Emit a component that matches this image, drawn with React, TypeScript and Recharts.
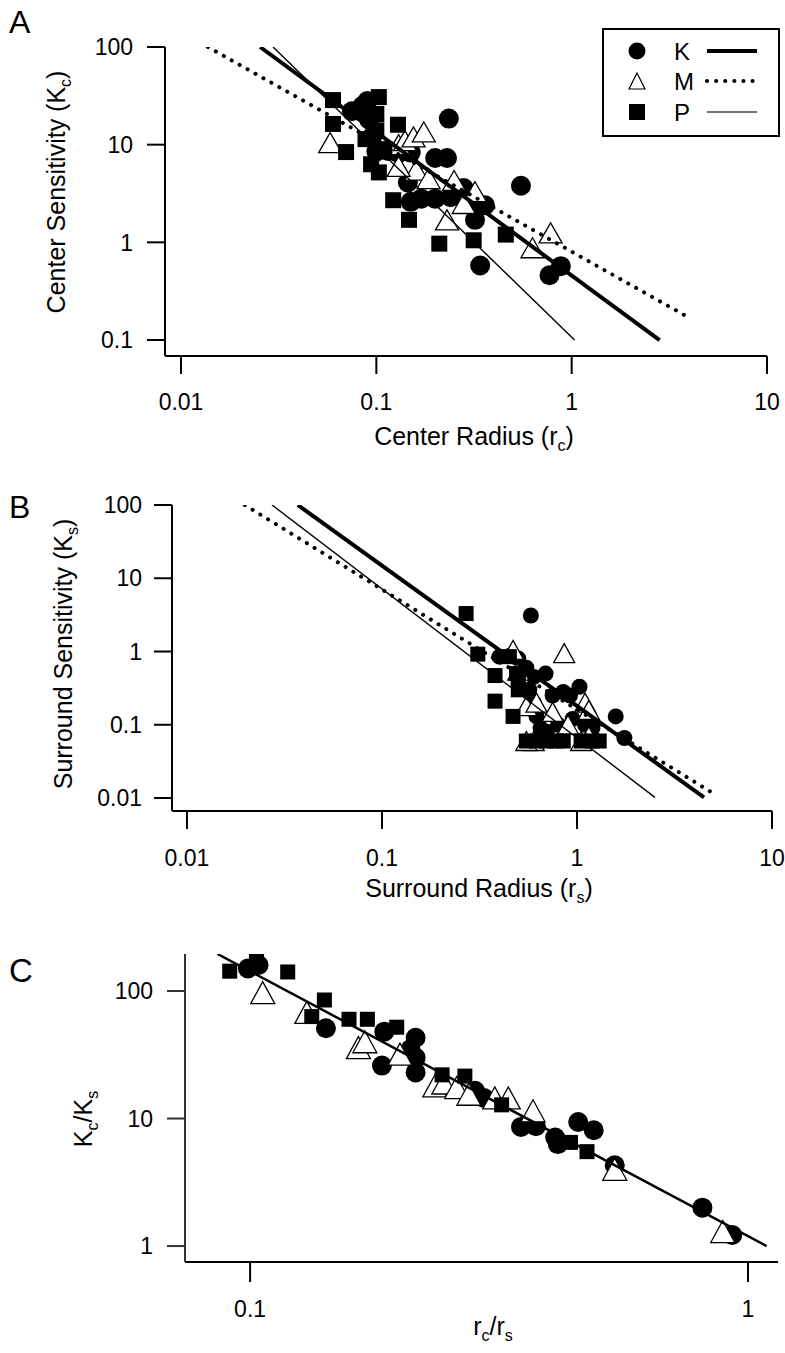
import React from 'react'
import { ScatterChart, Scatter, XAxis, YAxis, Legend, Label } from 'recharts'

const FONT = '"Liberation Sans", Arial, Helvetica, sans-serif'

// Panel A: center radius (rc) vs center sensitivity (Kc)
const aK = [
  { x: 0.075, y: 22 }, { x: 0.085, y: 25 }, { x: 0.09, y: 28 }, { x: 0.092, y: 18 }, { x: 0.095, y: 12 },
  { x: 0.1, y: 8.5 }, { x: 0.115, y: 8.6 }, { x: 0.13, y: 8.2 }, { x: 0.15, y: 8.3 }, { x: 0.145, y: 4.1 },
  { x: 0.15, y: 2.6 }, { x: 0.17, y: 2.8 }, { x: 0.2, y: 2.8 }, { x: 0.235, y: 18.5 }, { x: 0.2, y: 7.3 },
  { x: 0.23, y: 7.3 }, { x: 0.28, y: 3.6 }, { x: 0.36, y: 2.4 }, { x: 0.32, y: 1.7 }, { x: 0.34, y: 0.58 },
  { x: 0.55, y: 3.8 }, { x: 0.77, y: 0.46 }, { x: 0.88, y: 0.57 }, { x: 0.24, y: 2.9 }, { x: 0.3, y: 2.5 },
]
const aM = [
  { x: 0.058, y: 10.5 }, { x: 0.13, y: 10 }, { x: 0.14, y: 11 }, { x: 0.155, y: 12 }, { x: 0.175, y: 13.5 },
  { x: 0.16, y: 5.5 }, { x: 0.185, y: 4.5 }, { x: 0.25, y: 4.3 }, { x: 0.32, y: 3.3 }, { x: 0.23, y: 1.7 },
  { x: 0.63, y: 0.88 }, { x: 0.78, y: 1.25 }, { x: 0.13, y: 6 }, { x: 0.28, y: 2.5 },
]
const aP = [
  { x: 0.06, y: 28.6 }, { x: 0.06, y: 16.3 }, { x: 0.07, y: 8.4 }, { x: 0.103, y: 30.7 }, { x: 0.1, y: 20.6 },
  { x: 0.088, y: 11.4 }, { x: 0.094, y: 6.3 }, { x: 0.103, y: 5.2 }, { x: 0.122, y: 2.7 }, { x: 0.129, y: 16 },
  { x: 0.147, y: 1.7 }, { x: 0.21, y: 0.97 }, { x: 0.315, y: 1.05 }, { x: 0.46, y: 1.2 }, { x: 0.1, y: 14 },
  { x: 0.11, y: 9 },
]
const aFitK = [{ x: 0.0254, y: 100 }, { x: 2.82, y: 0.1 }]
const aFitM = [{ x: 0.01373, y: 100 }, { x: 3.93, y: 0.172 }]
const aFitP = [{ x: 0.0296, y: 100 }, { x: 1.035, y: 0.1 }]

// Panel B: surround radius (rs) vs surround sensitivity (Ks)
const bK = [
  { x: 0.58, y: 3.1 }, { x: 0.4, y: 0.85 }, { x: 0.45, y: 0.87 }, { x: 0.5, y: 0.8 }, { x: 0.55, y: 0.6 },
  { x: 0.6, y: 0.45 }, { x: 0.57, y: 0.3 }, { x: 0.6, y: 0.2 }, { x: 0.62, y: 0.13 }, { x: 0.65, y: 0.09 },
  { x: 0.69, y: 0.5 }, { x: 0.75, y: 0.25 }, { x: 0.85, y: 0.28 }, { x: 0.92, y: 0.25 }, { x: 1.03, y: 0.33 },
  { x: 0.95, y: 0.12 }, { x: 1.1, y: 0.1 }, { x: 1.2, y: 0.09 }, { x: 1.58, y: 0.13 }, { x: 1.75, y: 0.066 },
  { x: 0.8, y: 0.1 }, { x: 0.7, y: 0.08 },
]
const bM = [
  { x: 0.47, y: 1.05 }, { x: 0.86, y: 0.95 }, { x: 0.5, y: 0.55 }, { x: 0.55, y: 0.18 }, { x: 0.6, y: 0.06 },
  { x: 0.62, y: 0.2 }, { x: 0.75, y: 0.15 }, { x: 1.1, y: 0.2 }, { x: 1.15, y: 0.16 }, { x: 1.05, y: 0.06 },
  { x: 1.15, y: 0.07 }, { x: 0.9, y: 0.1 }, { x: 0.55, y: 0.06 },
]
const bP = [
  { x: 0.27, y: 3.3 }, { x: 0.31, y: 0.92 }, { x: 0.38, y: 0.47 }, { x: 0.49, y: 0.5 }, { x: 0.5, y: 0.4 },
  { x: 0.38, y: 0.21 }, { x: 0.47, y: 0.13 }, { x: 0.55, y: 0.06 }, { x: 0.62, y: 0.06 }, { x: 0.7, y: 0.06 },
  { x: 0.78, y: 0.06 }, { x: 0.85, y: 0.06 }, { x: 1.05, y: 0.06 }, { x: 1.2, y: 0.06 }, { x: 1.3, y: 0.06 },
  { x: 0.5, y: 0.3 }, { x: 0.45, y: 0.85 },
]
const bFitK = [{ x: 0.037, y: 100 }, { x: 4.48, y: 0.0102 }]
const bFitM = [{ x: 0.0198, y: 100 }, { x: 4.86, y: 0.0121 }]
const bFitP = [{ x: 0.0273, y: 100 }, { x: 2.51, y: 0.0102 }]

// Panel C: rc/rs vs Kc/Ks
const cK = [
  { x: 0.099, y: 150 }, { x: 0.104, y: 160 }, { x: 0.142, y: 51 }, { x: 0.186, y: 48 }, { x: 0.184, y: 26 },
  { x: 0.215, y: 43 }, { x: 0.215, y: 30 }, { x: 0.215, y: 23 }, { x: 0.21, y: 35 }, { x: 0.283, y: 16.5 },
  { x: 0.295, y: 14.5 }, { x: 0.35, y: 8.6 }, { x: 0.375, y: 8.7 }, { x: 0.41, y: 7.1 }, { x: 0.415, y: 6.3 },
  { x: 0.456, y: 9.4 }, { x: 0.49, y: 8.1 }, { x: 0.54, y: 4.3 }, { x: 0.81, y: 2.0 }, { x: 0.93, y: 1.22 },
]
const cM = [
  { x: 0.106, y: 97 }, { x: 0.13, y: 68 }, { x: 0.165, y: 36 }, { x: 0.17, y: 40 }, { x: 0.2, y: 32 },
  { x: 0.235, y: 18 }, { x: 0.245, y: 19 }, { x: 0.26, y: 17.5 }, { x: 0.275, y: 15.5 }, { x: 0.31, y: 14.5 },
  { x: 0.33, y: 14.5 }, { x: 0.37, y: 11.5 }, { x: 0.54, y: 4.0 }, { x: 0.89, y: 1.3 },
]
const cP = [
  { x: 0.091, y: 143 }, { x: 0.103, y: 178 }, { x: 0.119, y: 141 }, { x: 0.133, y: 63 }, { x: 0.141, y: 85 },
  { x: 0.158, y: 60 }, { x: 0.172, y: 60 }, { x: 0.197, y: 52 }, { x: 0.243, y: 22 }, { x: 0.27, y: 21.5 },
  { x: 0.32, y: 12.8 }, { x: 0.44, y: 6.5 }, { x: 0.475, y: 5.5 },
]
const cFit = [{ x: 0.086, y: 195 }, { x: 1.09, y: 1 }]

const groups = ['K', 'M', 'P']
const decadeTicks = [0.01, 0.1, 1, 10]

const dot = (r: number) => (p: any) => <circle cx={p.cx} cy={p.cy} r={r} fill='#000' />
const box = (s: number) => (p: any) => <rect x={p.cx - s / 2} y={p.cy - s / 2} width={s} height={s} fill='#000' />
const tri = (w: number, h: number) => (p: any) => (
  <polygon
    points={`${p.cx},${p.cy - h / 2} ${p.cx - w / 2},${p.cy + h / 2} ${p.cx + w / 2},${p.cy + h / 2}`}
    fill='#fff'
    stroke='#000'
    strokeWidth={1.3}
  />
)
const none = () => <g />

const axisLine = { stroke: '#000', strokeWidth: 2 }
const tickStyle = { fill: '#000', fontSize: 23, fontFamily: FONT }

const thick = { stroke: '#000', strokeWidth: 4 }
const dotted = { stroke: '#000', strokeWidth: 4, strokeDasharray: '0.1 9', strokeLinecap: 'round' as const }
const thin = { stroke: '#000', strokeWidth: 1.4 }

function GroupLegend() {
  const rows = [23, 53, 84]
  return (
    <svg width={178} height={109} style={{ display: 'block' }}>
      <rect x={1} y={1} width={176} height={107} fill='#fff' stroke='#000' strokeWidth={2} />
      {groups.map((g, i) => (
        <g key={g}>
          {i === 0 && <circle cx={35} cy={rows[i]} r={8.5} fill='#000' />}
          {i === 1 && <polygon points={`35,${rows[i] - 8} 27,${rows[i] + 8} 43,${rows[i] + 8}`} fill='#fff' stroke='#000' strokeWidth={1.2} />}
          {i === 2 && <rect x={27} y={rows[i] - 8} width={16} height={16} fill='#000' />}
          <text x={72} y={rows[i] + 8.5} fontSize={24} fontFamily={FONT}>{g}</text>
          <line x1={105} x2={155} y1={rows[i]} y2={rows[i]} {...(i === 0 ? thick : i === 1 ? dotted : { stroke: '#444', strokeWidth: 1.6 })} />
        </g>
      ))}
    </svg>
  )
}

function PanelA() {
  return (
    <ScatterChart width={785} height={460} margin={{ top: 47, right: 18, bottom: 0, left: 0 }}>
      <XAxis type='number' dataKey='x' scale='log' domain={[0.00828, 10]} allowDataOverflow ticks={decadeTicks}
        interval={0} height={104} tickSize={18} tickMargin={20} axisLine={axisLine} tickLine={axisLine} tick={tickStyle}
        tickFormatter={(v) => String(v)}>
        <Label content={() => (
          <text x={474} y={445} textAnchor='middle' fontSize={25} fontFamily={FONT}>
            Center Radius (r<tspan dy={6} fontSize={16}>c</tspan><tspan dy={-6}>)</tspan>
          </text>
        )} />
      </XAxis>
      <YAxis type='number' dataKey='y' scale='log' domain={[0.0686, 100]} allowDataOverflow ticks={[0.1, 1, 10, 100]}
        interval={0} width={165} tickSize={18} tickMargin={14} axisLine={axisLine} tickLine={axisLine} tick={tickStyle}
        tickFormatter={(v) => String(v)}>
        <Label content={() => (
          <g fontFamily={FONT}>
            <text x={9} y={33} fontSize={32}>A</text>
            <text x={65} y={192} transform='rotate(-90, 65, 192)' textAnchor='middle' fontSize={25}>
              Center Sensitivity (K<tspan dy={6} fontSize={16}>c</tspan><tspan dy={-6}>)</tspan>
            </text>
          </g>
        )} />
      </YAxis>
      <Legend layout='vertical' align='center' verticalAlign='middle' content={() => <GroupLegend />}
        wrapperStyle={{ position: 'absolute', left: 602, top: 28, width: 178, height: 109 }} />
      <Scatter name='K' data={aK} shape={dot(10)} isAnimationActive={false} />
      <Scatter name='M' data={aM} shape={tri(23, 20)} isAnimationActive={false} />
      <Scatter name='P' data={aP} shape={box(16)} isAnimationActive={false} />
      <Scatter data={aFitM} line={dotted} shape={none} isAnimationActive={false} legendType='none' />
      <Scatter data={aFitK} line={thick} shape={none} isAnimationActive={false} legendType='none' />
      <Scatter data={aFitP} line={thin} shape={none} isAnimationActive={false} legendType='none' />
    </ScatterChart>
  )
}

function PanelB() {
  return (
    <ScatterChart width={785} height={470} margin={{ top: 65, right: 13, bottom: 0, left: 0 }}>
      <XAxis type='number' dataKey='x' scale='log' domain={[0.00838, 10]} allowDataOverflow ticks={decadeTicks}
        interval={0} height={99} tickSize={18} tickMargin={21} axisLine={axisLine} tickLine={axisLine} tick={tickStyle}
        tickFormatter={(v) => String(v)}>
        <Label content={() => (
          <text x={479} y={457} textAnchor='middle' fontSize={25} fontFamily={FONT}>
            Surround Radius (r<tspan dy={6} fontSize={16}>s</tspan><tspan dy={-6}>)</tspan>
          </text>
        )} />
      </XAxis>
      <YAxis type='number' dataKey='y' scale='log' domain={[0.00665, 100]} allowDataOverflow ticks={[0.01, 0.1, 1, 10, 100]}
        interval={0} width={172} tickSize={18} tickMargin={12} axisLine={axisLine} tickLine={axisLine} tick={tickStyle}
        tickFormatter={(v) => String(v)}>
        <Label content={() => (
          <g fontFamily={FONT}>
            <text x={9} y={78} fontSize={32}>B</text>
            <text x={72} y={214} transform='rotate(-90, 72, 214)' textAnchor='middle' fontSize={25}>
              Surround Sensitivity (K<tspan dy={6} fontSize={16}>s</tspan><tspan dy={-6}>)</tspan>
            </text>
          </g>
        )} />
      </YAxis>
      <Scatter name='K' data={bK} shape={dot(8)} isAnimationActive={false} />
      <Scatter name='M' data={bM} shape={tri(21, 19)} isAnimationActive={false} />
      <Scatter name='P' data={bP} shape={box(15)} isAnimationActive={false} />
      <Scatter data={bFitM} line={dotted} shape={none} isAnimationActive={false} />
      <Scatter data={bFitK} line={thick} shape={none} isAnimationActive={false} />
      <Scatter data={bFitP} line={thin} shape={none} isAnimationActive={false} />
    </ScatterChart>
  )
}

function PanelC() {
  return (
    <ScatterChart width={785} height={453} margin={{ top: 54, right: 7, bottom: 0, left: 0 }}>
      <XAxis type='number' dataKey='x' scale='log' domain={[0.074, 1.149]} allowDataOverflow ticks={[0.1, 1]}
        interval={0} height={91} tickSize={20} tickMargin={19} axisLine={axisLine} tickLine={axisLine} tick={tickStyle}
        tickFormatter={(v) => String(v)}>
        <Label content={() => (
          <text x={493} y={435} textAnchor='middle' fontSize={25} fontFamily={FONT}>
            r<tspan dy={6} fontSize={16}>c</tspan><tspan dy={-6}>/r</tspan><tspan dy={6} fontSize={16}>s</tspan>
          </text>
        )} />
      </XAxis>
      <YAxis type='number' dataKey='y' scale='log' domain={[0.75, 195]} allowDataOverflow ticks={[1, 10, 100]}
        interval={0} width={185} tickSize={18} tickMargin={14} axisLine={{ stroke: '#333', strokeWidth: 2 }}
        tickLine={{ stroke: '#333', strokeWidth: 2 }} tick={tickStyle} tickFormatter={(v) => String(v)}>
        <Label content={() => (
          <g fontFamily={FONT}>
            <text x={9} y={82} fontSize={33}>C</text>
            <text x={92} y={219} transform='rotate(-90, 92, 219)' textAnchor='middle' fontSize={25}>
              K<tspan dy={6} fontSize={16}>c</tspan><tspan dy={-6}>/K</tspan><tspan dy={6} fontSize={16}>s</tspan>
            </text>
          </g>
        )} />
      </YAxis>
      <Scatter name='K' data={cK} shape={dot(10)} isAnimationActive={false} />
      <Scatter name='M' data={cM} shape={tri(24, 22)} isAnimationActive={false} />
      <Scatter name='P' data={cP} shape={box(15)} isAnimationActive={false} />
      <Scatter data={cFit} line={{ stroke: '#000', strokeWidth: 2.5 }} shape={none} isAnimationActive={false} />
    </ScatterChart>
  )
}

export default function App() {
  return (
    <div style={{ position: 'absolute', left: 0, top: 0, width: 785, height: 1353, background: '#fff', fontFamily: FONT }}>
      <div style={{ position: 'absolute', left: 0, top: 0 }}><PanelA /></div>
      <div style={{ position: 'absolute', left: 0, top: 440 }}><PanelB /></div>
      <div style={{ position: 'absolute', left: 0, top: 900 }}><PanelC /></div>
    </div>
  )
}
